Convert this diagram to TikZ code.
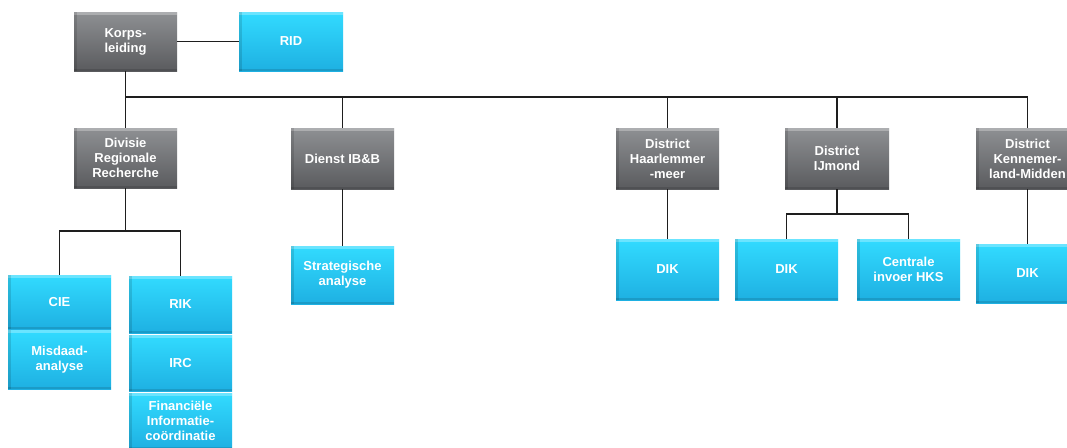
\documentclass[tikz,border=0pt]{standalone}
\usepackage{fontspec}
\setmainfont{Liberation Sans}
\definecolor{gtop}{RGB}{142,144,147}
\definecolor{gbot}{RGB}{90,91,94}
\definecolor{btop}{RGB}{50,219,255}
\definecolor{bbot}{RGB}{30,176,226}
\definecolor{wire}{RGB}{30,30,30}
\tikzset{
  unit/.style={rectangle, inner sep=0pt, align=center, text=white,
    font=\fontsize{13}{15}\selectfont\bfseries,
    path picture={
      \fill[white,opacity=.28] (path picture bounding box.north west) rectangle ([yshift=-3pt]path picture bounding box.north east);
      \fill[black,opacity=.12] (path picture bounding box.north west) rectangle ([xshift=3pt]path picture bounding box.south west);
      \fill[black,opacity=.12] (path picture bounding box.south west) rectangle ([yshift=2pt]path picture bounding box.south east);
    }},
  gbox/.style={unit, top color=gtop, bottom color=gbot},
  bbox/.style={unit, top color=btop, bottom color=bbot},
  sz/.style 2 args={minimum width=#1pt, minimum height=#2pt},
  link/.style={draw=wire, line width=1.1pt}
}
\begin{document}
\begin{tikzpicture}[x=1pt,y=-1pt]
\useasboundingbox (0,0) rectangle (1067,447);
\clip (0,0) rectangle (1067,447);
\fill[white] (0,0) rectangle (1067,447);

% top level
\node[gbox, sz={103}{59}] (korps) at (125.5,41.5) {Korps-\\leiding};
\node[bbox, sz={104}{59}] (rid) at (291,41.5) {RID};

% second level
\node[gbox, sz={103}{60}] (divisie) at (125.5,158) {Divisie\\Regionale\\Recherche};
\node[gbox, sz={103}{61}] (dienst) at (342.5,158.5) {Dienst IB\&B};
\node[gbox, sz={103}{61}] (haarl) at (667.5,158.5) {District\\Haarlemmer\\-meer};
\node[gbox, sz={104}{61}] (ijmond) at (837,158.5) {District\\IJmond};
\node[gbox, sz={103}{61}] (kenn) at (1027.5,158.5) {District\\Kennemer-\\land-Midden};

% units of the division
\node[bbox, sz={103}{54}] (cie) at (59.5,302) {CIE};
\node[bbox, sz={103}{59}] (misdaad) at (59.5,359.5) {Misdaad-\\analyse};
\node[bbox, sz={103}{57}] (rik) at (180.5,304.5) {RIK};
\node[bbox, sz={103}{56}] (irc) at (180.5,363) {IRC};
\node[bbox, sz={103}{56}] (fin) at (180.5,421) {Financiële\\Informatie-\\coördinatie};

% units of the service and districts
\node[bbox, sz={103}{58}] (strat) at (342.5,275) {Strategische\\analyse};
\node[bbox, sz={103}{61}] (dik1) at (667.5,269.5) {DIK};
\node[bbox, sz={103}{61}] (dik2) at (786.5,269.5) {DIK};
\node[bbox, sz={103}{61}] (centrale) at (908.5,269.5) {Centrale\\invoer HKS};
\node[bbox, sz={103}{59}] (dik3) at (1027.5,273.5) {DIK};

% connectors
\coordinate (busL) at (125.5,97);
\coordinate (busR) at (1027.5,97);
\coordinate (dvbar) at (0,231);
\coordinate (ijbar) at (0,214);

\draw[link] (korps.east) -- (rid.west);
\draw[link] (korps.south) -- (busL) -- (busR);
\foreach \n in {divisie,dienst,haarl,ijmond,kenn}
  \draw[link] (\n.north) -- (\n.north |- busL);

\draw[link] (divisie.south) -- (divisie.south |- dvbar);
\draw[link] (cie.north) -- (cie.north |- dvbar) -- (rik.north |- dvbar) -- (rik.north);

\draw[link] (dienst.south) -- (strat.north);
\draw[link] (haarl.south) -- (dik1.north);
\draw[link] (ijmond.south) -- (ijmond.south |- ijbar);
\draw[link] (dik2.north) -- (dik2.north |- ijbar) -- (centrale.north |- ijbar) -- (centrale.north);
\draw[link] (kenn.south) -- (dik3.north);
\end{tikzpicture}
\end{document}
